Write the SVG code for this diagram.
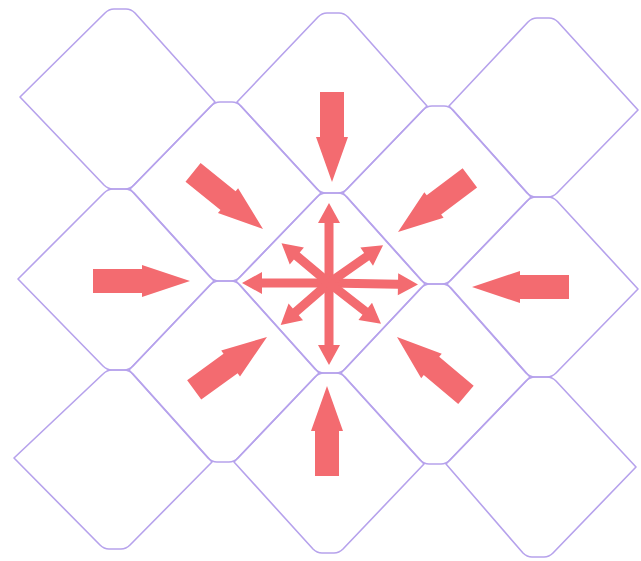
<svg xmlns="http://www.w3.org/2000/svg" xmlns:xlink="http://www.w3.org/1999/xlink" width="641" height="561" viewBox="0 0 641 561">
<style>
.cell{fill:none;stroke:#b6a2ec;stroke-width:1.6;stroke-linejoin:round}
.arr{fill:#f36b70}
</style>
<defs>
<path id="big" d="M-90,-12 H-45 V-16 L0,0 L-45,16 V12 H-90 Z"/>
<path id="bigh" d="M-97,-12 H-48 V-16 L0,0 L-48,16 V12 H-97 Z"/>
</defs>
<rect width="641" height="561" fill="#ffffff"/>
<g id="lattice">
<path id="A1" class="cell" d="M114,9 H126 Q131,9 135,13 L215,102 L134,185 Q130,189 125,189 H113 Q108,189 104,185 L20,97 L105,13 Q109,9 114,9 Z"/>
<path id="A2" class="cell" d="M327,13 H339 Q344,13 348,17 L427,106 L347,189 Q343,193 338,193 H326 Q321,193 317,189 L237,102 L318,17 Q322,13 327,13 Z"/>
<path id="A3" class="cell" d="M537,18 H549 Q554,18 558,22 L638,110 L557,193 Q553,197 548,197 H536 Q531,197 527,193 L449,106 L528,22 Q532,18 537,18 Z"/>
<path id="B1" class="cell" d="M220,102 H232 Q237,102 241,106 L321,193 L240,277 Q236,281 231,281 H219 Q214,281 210,277 L130,189 L211,106 Q215,102 220,102 Z"/>
<path id="B2" class="cell" d="M432,106 H444 Q449,106 453,110 L531,197 L451,280 Q447,284 442,284 H430 Q425,284 421,280 L343,193 L423,110 Q427,106 432,106 Z"/>
<path id="C1" class="cell" d="M113,189 H125 Q130,189 134,193 L214,281 L133,366 Q129,370 124,370 H112 Q107,370 103,366 L18,279 L104,193 Q108,189 113,189 Z"/>
<path id="C2" class="cell" d="M326,193 H338 Q343,193 347,197 L425,284 L345,369 Q341,373 336,373 H324 Q319,373 315,369 L236,281 L317,197 Q321,193 326,193 Z"/>
<path id="C3" class="cell" d="M536,197 H548 Q553,197 557,201 L638,289 L556,373 Q552,377 547,377 H535 Q530,377 526,373 L447,284 L527,201 Q531,197 536,197 Z"/>
<path id="D1" class="cell" d="M219,281 H231 Q236,281 240,285 L319,373 L238,458 Q234,462 229,462 H217 Q212,462 208,458 L129,370 L210,285 Q214,281 219,281 Z"/>
<path id="D2" class="cell" d="M430,284 H442 Q447,284 451,288 L530,377 L450,460 Q446,464 441,464 H429 Q424,464 420,460 L341,373 L421,288 Q425,284 430,284 Z"/>
<path id="E1" class="cell" d="M112,370 H124 Q129,370 133,374 L212,462 L130,545 Q126,549 121,549 H109 Q104,549 100,545 L14,458 L103,374 Q107,370 112,370 Z"/>
<path id="E2" class="cell" d="M324,373 H336 Q341,373 345,377 L424,464 L343,549 Q339,553 334,553 H322 Q317,553 313,549 L234,462 L315,377 Q319,373 324,373 Z"/>
<path id="E3" class="cell" d="M535,377 H547 Q552,377 556,381 L636,467 L553,553 Q549,557 544,557 H532 Q527,557 523,553 L446,464 L526,381 Q530,377 535,377 Z"/>
</g>
<g id="inward-arrows" class="arr">
<use id="in-top" xlink:href="#big" href="#big" transform="translate(332,182) rotate(90)"/>
<use id="in-bottom" xlink:href="#big" href="#big" transform="translate(327,386) rotate(-90)"/>
<use id="in-left" xlink:href="#bigh" href="#bigh" transform="translate(190,281)"/>
<use id="in-right" xlink:href="#bigh" href="#bigh" transform="translate(472,287) rotate(180)"/>
<use id="in-tl" xlink:href="#big" href="#big" transform="translate(263,229) rotate(39)"/>
<use id="in-tr" xlink:href="#big" href="#big" transform="translate(398,232) rotate(143)"/>
<use id="in-bl" xlink:href="#big" href="#big" transform="translate(267,337) rotate(-36)"/>
<use id="in-br" xlink:href="#big" href="#big" transform="translate(397,337) rotate(-140)"/>
</g>
<g id="star" class="arr" transform="translate(329,283)">
<circle r="7"/>
<path id="out-up" transform="rotate(-90)" d="M0,-4.5 H60 V-11 L80,0 L60,11 V4.5 H0 Z"/>
<path id="out-down" transform="rotate(90)" d="M0,-4.5 H62 V-11 L82,0 L62,11 V4.5 H0 Z"/>
<path id="out-left" transform="rotate(180)" d="M0,-4.5 H67 V-11 L87,0 L67,11 V4.5 H0 Z"/>
<path id="out-right" transform="rotate(1)" d="M0,-4.5 H69 V-11 L89,0 L69,11 V4.5 H0 Z"/>
<path id="out-ul" transform="rotate(-140)" d="M0,-4.5 H42 V-11 L62,0 L42,11 V4.5 H0 Z"/>
<path id="out-ur" transform="rotate(-35)" d="M0,-4.5 H46 V-11 L66,0 L46,11 V4.5 H0 Z"/>
<path id="out-dl" transform="rotate(139)" d="M0,-4.5 H44 V-11 L64,0 L44,11 V4.5 H0 Z"/>
<path id="out-dr" transform="rotate(38)" d="M0,-4.5 H46 V-11 L66,0 L46,11 V4.5 H0 Z"/>
</g>
</svg>
